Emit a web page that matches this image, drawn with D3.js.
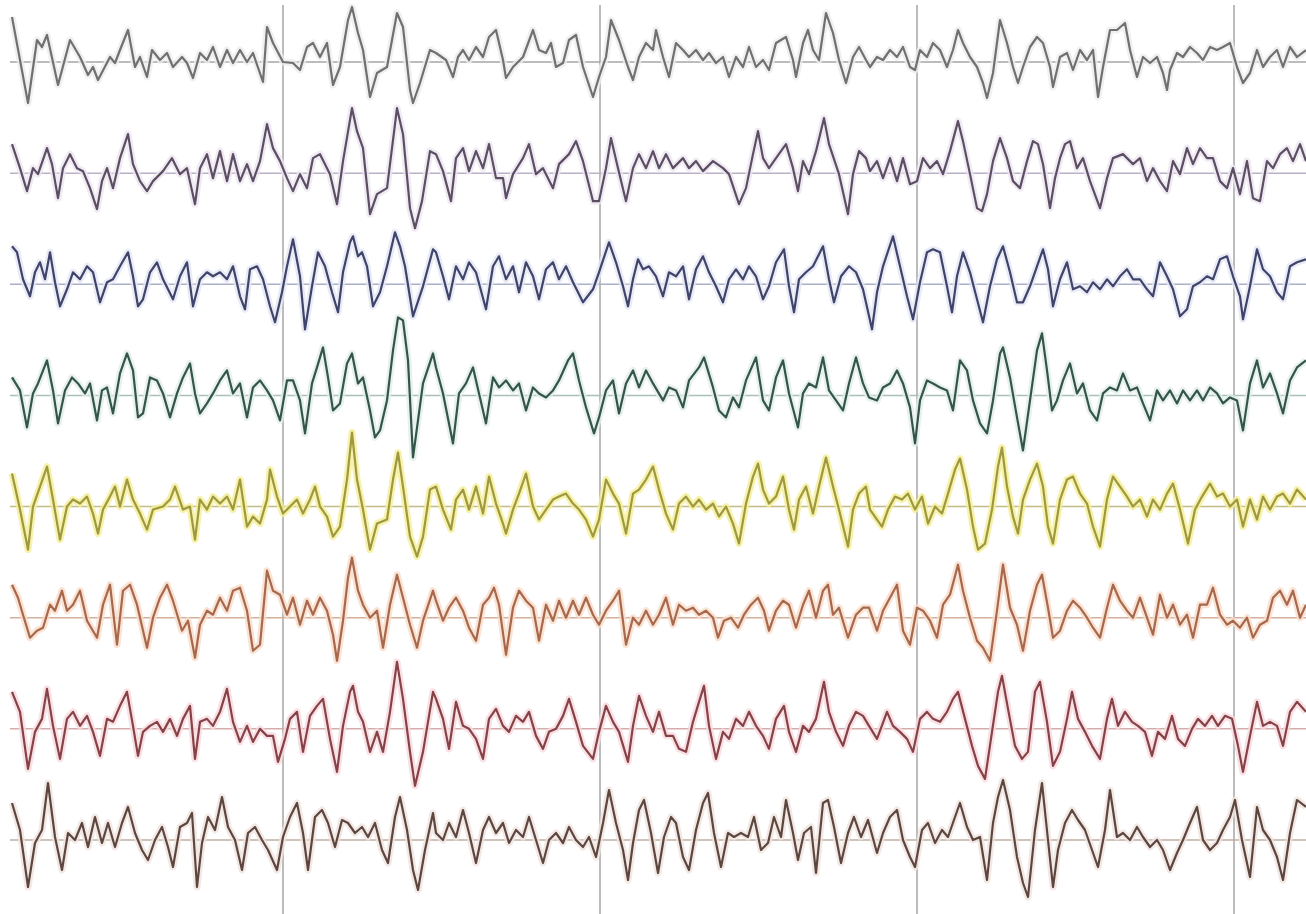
<!DOCTYPE html>
<html>
<head>
<meta charset="utf-8">
<script src="https://cdn.jsdelivr.net/npm/d3@7"></script>
<style>
  html, body { margin: 0; padding: 0; background: #fff; }
  svg { display: block; }
</style>
</head>
<body>
<div id="chart"></div>
<script>
// EEG page: 8 channels, [sample, amplitude] pairs
const channels = ["ch1", "ch2", "ch3", "ch4", "ch5", "ch6", "ch7", "ch8"];
const secondMarks = [283, 600, 917, 1234]; // samples where each second begins

const ch1 = [[12,45],[28,-41],[37,22],[42,15],[47,27],[58,-23],[70,22],[80,5],[88,-13],[93,-5],[98,-18],[110,5],[115,-1],[120,12],[128,32],[135,-5],[140,5],[147,-15],[152,12],[160,2],[167,9],[173,-5],[182,5],[187,-1],[193,-16],[200,9],[207,2],[213,15],[220,-5],[227,12],[233,-1],[240,12],[247,0],[253,9],[263,-20],[267,35],[273,19],[283,0],[293,-1],[300,-8],[307,15],[313,19],[320,5],[327,19],[333,-23],[340,-5],[348,42],[352,55],[358,29],[363,12],[370,-35],[377,-11],[387,-5],[397,49],[403,35],[410,-28],[413,-41],[420,-21],[430,12],
  [436,9],[446,2],[453,-15],[458,5],[463,12],[469,2],[476,15],[483,5],[489,25],[496,32],[503,2],[506,-16],[513,-5],[523,5],[533,32],[539,12],[546,9],[551,19],[556,-5],[563,-1],[569,22],[576,27],[583,-5],[593,-35],[599,-15],[606,5],[611,42],[619,22],[628,-5],[633,-18],[639,5],[646,19],[653,12],[656,32],[663,5],[669,-15],[676,19],[683,12],[689,5],[696,12],[703,2],[709,9],[716,-1],[723,5],[729,-15],[736,5],[743,-5],[749,15],[756,-5],[763,2],[769,-8],[776,19],[786,25],[793,2],[796,-15],[803,19],[808,32],[813,12],[819,2],[826,49],[833,29],[839,2],[846,-21],[853,5],[859,15],[866,2],
  [870,-5],[877,5],[883,2],[890,12],[897,5],[903,15],[910,-5],[915,-8],[920,12],[927,5],[933,19],[940,12],[947,-5],[953,12],[958,32],[963,19],[970,5],[977,-5],[983,-21],[987,-36],[993,-11],[1000,42],[1007,19],[1013,-5],[1018,-21],[1023,-5],[1030,15],[1037,25],[1043,19],[1050,-5],[1053,-25],[1060,5],[1067,9],[1073,-8],[1080,12],[1087,2],[1093,12],[1098,-35],[1103,-5],[1110,32],[1117,32],[1125,39],[1130,12],[1137,-15],[1143,5],[1150,-1],[1157,5],[1163,-11],[1167,-28],[1170,-8],[1177,9],[1183,5],[1190,15],[1197,9],[1203,2],[1210,15],[1217,12],[1223,15],[1230,19],[1237,-5],[1243,-21],[1250,-11],[1257,12],[1263,-5],[1270,5],[1277,12],[1283,-5],[1290,15],[1297,5],[1306,12]];

const ch2 = [[12,29],[20,5],[27,-18],[33,5],[38,-1],[47,25],[52,9],[58,-25],[63,5],[70,19],[77,5],[83,2],[90,-15],[97,-36],[102,-8],[107,5],[113,-15],[120,15],[128,39],[133,9],[140,-8],[147,-18],[153,-8],[163,2],[172,15],[180,-1],[187,5],[195,-31],[200,5],[207,19],[213,-5],[220,22],[227,-8],[233,19],[240,-8],[247,9],[253,-8],[260,12],[267,49],[273,25],[280,12],[287,-5],[293,-18],[300,-1],[307,-15],[313,15],[320,19],[330,-1],[337,-31],[343,12],[352,65],[357,42],[363,25],[370,-41],[377,-21],[387,-15],[397,65],[403,39],[410,-35],[415,-55],[422,-28],[430,22],
  [436,19],[443,2],[451,-28],[456,15],[463,25],[469,2],[476,22],[483,5],[489,29],[496,-5],[503,-5],[506,-25],[513,-1],[523,15],[529,29],[536,-1],[543,5],[553,-15],[559,9],[569,19],[576,32],[583,12],[593,-28],[599,-28],[606,5],[611,35],[618,5],[626,-28],[633,5],[639,19],[646,5],[653,22],[659,5],[666,19],[673,5],[683,15],[689,5],[696,12],[703,2],[713,12],[723,5],[729,-1],[739,-31],[746,-15],[753,19],[758,42],[763,15],[769,5],[776,15],[786,29],[793,5],[798,-18],[803,12],[809,-1],[816,22],[824,55],[829,29],[839,-1],[848,-41],[853,-1],[859,22],[866,15],
  [870,2],[877,12],[883,-5],[890,15],[897,-8],[903,15],[910,-11],[917,-8],[923,15],[930,5],[937,12],[943,-1],[950,22],[958,52],[963,32],[970,-1],[977,-35],[982,-38],[987,-21],[993,12],[1000,35],[1007,15],[1013,-8],[1020,-15],[1027,12],[1033,32],[1038,29],[1043,9],[1050,-35],[1055,-5],[1060,15],[1065,29],[1070,32],[1077,5],[1083,15],[1090,-8],[1100,-35],[1107,-5],[1113,15],[1123,19],[1133,9],[1140,15],[1147,-8],[1153,5],[1160,-8],[1167,-18],[1173,12],[1180,-1],[1187,25],[1193,9],[1200,25],[1207,15],[1213,15],[1220,-8],[1227,-15],[1233,5],[1240,-21],[1247,12],[1253,-25],[1260,-28],[1267,12],[1273,5],[1280,19],[1287,25],[1293,12],[1300,29],[1306,12]];

const ch3 = [[12,38],[17,32],[23,5],[30,-12],[35,12],[40,22],[45,5],[50,32],[55,2],[60,-22],[67,-5],[73,12],[80,5],[87,18],[93,12],[100,-18],[107,2],[113,5],[120,18],[128,32],[133,8],[138,-22],[143,-15],[150,12],[157,22],[163,5],[173,-15],[180,8],[187,22],[193,-22],[200,5],[207,12],[213,8],[220,12],[227,5],[233,18],[240,-12],[245,-25],[250,15],[257,18],[263,5],[270,-22],[275,-38],[282,-8],[287,18],[293,45],[300,8],[305,-45],[312,-2],[318,32],[325,18],[332,-8],[338,-28],[343,12],[350,42],[353,48],[358,28],[362,32],[367,18],[373,-22],[380,-8],[387,18],[395,52],[400,38],[405,18],[413,-32],[423,-2],[433,35],
  [436,32],[443,8],[449,-15],[456,18],[463,5],[469,22],[476,12],[486,-25],[493,18],[499,28],[506,5],[513,18],[519,-8],[526,22],[533,8],[539,-15],[546,15],[553,22],[559,5],[566,18],[573,2],[583,-18],[593,-5],[599,12],[609,42],[616,22],[623,-2],[628,-22],[633,5],[638,25],[643,15],[649,18],[656,8],[663,-12],[669,12],[676,8],[683,18],[689,-15],[696,15],[703,28],[709,12],[716,-2],[723,-18],[729,5],[736,15],[743,5],[749,18],[756,8],[763,-15],[769,-2],[776,22],[784,35],[789,-2],[794,-28],[799,5],[806,12],[813,18],[823,38],[829,5],[834,-18],[841,8],[849,18],[856,12],[863,-5],
  [872,-45],[877,-8],[883,18],[893,48],[900,18],[907,-12],[913,-35],[920,2],[927,32],[933,35],[940,32],[947,-2],[952,-28],[957,8],[963,32],[970,12],[977,-15],[983,-38],[990,-2],[997,25],[1003,38],[1010,12],[1017,-18],[1023,-18],[1030,-2],[1037,18],[1043,35],[1048,15],[1053,-22],[1060,5],[1067,22],[1073,-5],[1080,-2],[1087,-8],[1093,2],[1100,-5],[1107,5],[1113,-2],[1120,8],[1127,15],[1133,5],[1140,5],[1147,-5],[1153,-12],[1160,22],[1167,8],[1173,-5],[1180,-32],[1187,-25],[1193,-2],[1200,2],[1207,8],[1213,5],[1220,25],[1227,28],[1233,8],[1240,-12],[1243,-35],[1250,-2],[1257,35],[1263,15],[1270,8],[1277,-8],[1283,-15],[1290,18],[1297,22],[1306,25]];

const ch4 = [[12,18],[20,5],[27,-32],[33,2],[38,12],[47,35],[53,5],[58,-28],[65,5],[72,18],[78,12],[85,2],[90,12],[97,-25],[102,5],[107,8],[113,-18],[120,22],[127,42],[133,25],[138,-22],[143,-18],[150,18],[157,15],[163,2],[170,-22],[177,2],[183,18],[190,32],[195,2],[200,-18],[207,-8],[213,2],[220,15],[227,25],[233,2],[240,12],[247,-22],[253,8],[260,15],[267,5],[273,-5],[280,-25],[287,15],[293,15],[300,-5],[305,-38],[312,12],[317,28],[323,48],[328,18],[333,-15],[340,-8],[347,32],[352,42],[358,12],[363,18],[370,-15],[375,-42],[380,-35],[387,-5],[393,45],[398,78],[403,75],[408,35],[413,-62],[423,12],[433,42],
  [436,28],[443,2],[453,-48],[459,2],[466,12],[473,28],[479,2],[486,-28],[493,18],[499,8],[506,15],[513,5],[519,12],[526,-15],[533,8],[539,2],[546,-2],[553,5],[559,15],[568,35],[573,42],[579,15],[586,-12],[594,-38],[599,-22],[606,5],[613,15],[619,-18],[626,12],[633,25],[639,8],[646,25],[653,12],[663,-5],[669,8],[676,5],[683,-12],[689,15],[699,28],[704,38],[713,8],[719,-15],[726,-22],[733,-2],[739,-12],[746,15],[756,38],[763,-5],[769,-15],[776,18],[783,35],[789,2],[798,-32],[803,2],[809,12],[816,8],[823,38],[829,5],[836,-5],[843,-15],[849,12],[856,38],[863,12],[869,-2],
  [877,-5],[883,8],[890,12],[897,25],[903,12],[910,-12],[915,-48],[920,-5],[927,15],[933,12],[940,8],[947,5],[953,-15],[960,35],[967,25],[973,-5],[980,-28],[987,-38],[993,-5],[1000,42],[1003,48],[1010,18],[1017,-22],[1023,-55],[1030,-5],[1037,45],[1042,62],[1047,25],[1052,-15],[1057,-5],[1063,15],[1070,32],[1077,2],[1083,12],[1090,-15],[1097,-25],[1103,2],[1110,8],[1117,5],[1123,22],[1130,5],[1137,8],[1143,-8],[1150,-25],[1157,5],[1163,-5],[1170,5],[1177,-8],[1183,5],[1190,-5],[1197,5],[1203,-5],[1210,8],[1217,2],[1223,-8],[1230,-2],[1237,-5],[1243,-35],[1250,12],[1257,35],[1263,8],[1270,22],[1277,2],[1283,-18],[1290,15],[1297,28],[1306,35]];

const ch5 = [[12,33],[20,-3],[28,-43],[33,0],[40,20],[47,40],[53,7],[60,-33],[67,0],[73,7],[80,3],[87,10],[93,-7],[98,-27],[103,-3],[110,10],[115,20],[120,0],[127,27],[133,7],[140,-7],[147,-23],[153,-3],[163,0],[170,7],[175,20],[183,-3],[190,0],[195,-33],[200,7],[207,-3],[213,10],[220,3],[227,10],[233,-3],[240,27],[247,-20],[253,-10],[260,-17],[267,7],[270,37],[277,10],[283,-7],[290,0],[297,7],[303,-7],[310,7],[315,20],[320,0],[327,-10],[333,-30],[340,-20],[347,27],[352,74],[357,27],[363,-3],[370,-43],[377,-17],[387,-13],[393,27],[398,54],[403,20],[410,-30],[417,-50],[423,-30],[430,17],
  [436,20],[443,-3],[451,-23],[456,7],[463,17],[469,-3],[476,20],[483,-7],[489,30],[496,3],[503,-17],[506,-27],[513,-3],[519,13],[526,33],[533,0],[539,-13],[546,-3],[553,7],[559,10],[566,13],[573,3],[579,-3],[586,-13],[593,-30],[599,-13],[606,27],[613,13],[619,3],[626,-27],[633,13],[639,17],[646,27],[653,40],[659,17],[666,-7],[673,-23],[679,3],[686,10],[693,0],[699,7],[706,-3],[713,3],[719,-10],[726,0],[733,-17],[739,-37],[746,3],[753,30],[758,43],[763,17],[769,3],[776,10],[783,30],[789,-3],[794,-23],[799,7],[806,20],[813,-7],[819,20],[826,49],[833,20],[839,-3],[848,-40],[853,-3],[859,13],[866,20],
  [870,-3],[877,-13],[882,-20],[888,-3],[895,10],[902,7],[908,13],[915,-3],[922,10],[928,-17],[935,0],[942,-7],[948,13],[955,37],[960,48],[967,17],[973,-20],[978,-43],[985,-37],[992,-3],[998,40],[1002,59],[1007,20],[1013,-10],[1018,-27],[1023,7],[1030,27],[1037,43],[1043,20],[1048,-20],[1053,-37],[1060,7],[1067,27],[1073,30],[1080,13],[1087,3],[1093,-20],[1100,-40],[1107,7],[1113,30],[1120,20],[1127,10],[1133,0],[1140,7],[1147,-10],[1153,7],[1160,-3],[1167,13],[1173,23],[1180,-3],[1188,-37],[1195,-3],[1202,10],[1210,23],[1217,10],[1223,13],[1230,0],[1237,7],[1243,-20],[1250,7],[1257,-13],[1263,10],[1270,-3],[1277,10],[1283,13],[1290,3],[1297,17],[1306,7]];

const ch6 = [[12,33],[18,20],[23,3],[30,-20],[37,-13],[43,-10],[50,13],[55,7],[62,27],[67,7],[73,13],[80,27],[87,-3],[97,-20],[103,13],[110,33],[117,-27],[123,27],[130,33],[137,13],[147,-30],[153,0],[160,20],[167,33],[173,17],[182,-13],[188,-3],[195,-40],[200,-7],[207,7],[213,3],[220,20],[227,7],[233,27],[240,30],[247,7],[253,-33],[260,-27],[267,47],[273,27],[280,23],[287,3],[293,20],[300,-7],[307,17],[313,3],[320,20],[327,7],[333,-17],[337,-43],[343,-3],[348,40],[352,60],[358,27],[363,13],[370,0],[377,7],[383,-30],[390,13],[397,43],[403,20],[410,-7],[417,-30],[423,-3],[433,27],
  [436,17],[443,-3],[449,10],[456,20],[463,7],[469,-10],[476,-23],[483,13],[489,20],[494,30],[499,13],[506,-37],[513,10],[519,27],[526,17],[533,10],[539,-23],[546,13],[553,-3],[559,17],[566,0],[573,17],[579,3],[586,20],[593,3],[599,-7],[606,7],[613,17],[619,27],[626,-27],[633,0],[639,-7],[646,7],[653,-7],[659,3],[666,20],[673,-7],[679,13],[686,7],[693,10],[699,3],[706,7],[713,0],[718,-20],[724,-3],[731,0],[738,-10],[744,3],[751,13],[758,20],[764,7],[769,-13],[776,7],[783,17],[789,13],[796,-10],[803,13],[809,27],[816,0],[823,27],[828,33],[833,3],[839,10],[848,-20],[856,3],[863,10],[869,10],
  [877,-13],[883,7],[890,20],[897,33],[903,-13],[910,-27],[917,10],[923,7],[930,-3],[937,-20],[943,13],[950,23],[958,53],[963,27],[970,0],[977,-23],[983,-30],[990,-43],[997,7],[1003,53],[1010,10],[1017,-7],[1023,-33],[1030,7],[1037,33],[1042,43],[1048,10],[1053,-20],[1060,-13],[1067,7],[1073,17],[1080,10],[1087,0],[1093,-10],[1100,-20],[1107,10],[1113,33],[1120,17],[1127,7],[1133,0],[1140,20],[1147,0],[1153,-17],[1160,23],[1167,0],[1173,13],[1180,-7],[1187,3],[1193,-20],[1200,13],[1207,13],[1213,30],[1220,3],[1227,-7],[1233,-3],[1240,-10],[1247,0],[1253,-20],[1260,-7],[1267,-3],[1273,20],[1280,27],[1287,13],[1293,27],[1300,0],[1306,13]];

const ch7 = [[12,37],[20,17],[28,-40],[35,-3],[42,10],[47,40],[53,3],[60,-30],[67,10],[73,17],[80,3],[87,13],[93,-3],[100,-27],[107,10],[113,7],[120,23],[127,37],[133,3],[138,-27],[143,-3],[150,3],[157,7],[163,-3],[170,10],[177,-7],[183,10],[190,23],[195,-30],[200,7],[207,10],[213,3],[220,17],[227,40],[233,7],[240,-13],[247,3],[253,-13],[260,0],[267,-7],[273,-7],[278,-33],[285,-10],[290,10],[297,17],[303,-23],[310,13],[317,23],[323,30],[330,-10],[337,-43],[343,3],[350,37],[353,43],[358,17],[363,7],[370,-23],[377,-3],[383,-23],[390,17],[397,67],[403,30],[410,-23],[415,-57],[423,-23],[433,37],
  [436,30],[443,10],[449,-20],[456,27],[463,3],[469,0],[476,-10],[483,-30],[489,10],[496,20],[503,3],[509,-3],[516,13],[523,7],[529,17],[536,-7],[543,-20],[549,-3],[556,0],[563,13],[569,30],[576,7],[583,-17],[593,-30],[599,-3],[606,23],[613,7],[619,-3],[628,-33],[633,3],[639,33],[646,13],[653,-3],[659,17],[666,-7],[673,-7],[679,-20],[686,-23],[693,7],[699,27],[704,43],[709,3],[716,-30],[723,-3],[729,-10],[736,10],[743,3],[749,17],[756,3],[763,-7],[769,-20],[776,10],[784,23],[789,-3],[796,-23],[803,3],[809,-3],[816,10],[824,47],[829,17],[836,-3],[843,-17],[849,3],[856,17],[863,13],[869,3],
  [877,-10],[887,17],[893,3],[900,-3],[907,-10],[913,-23],[920,10],[927,17],[933,10],[940,7],[947,17],[953,30],[958,37],[965,10],[972,-17],[978,-37],[985,-50],[992,-3],[998,37],[1002,53],[1008,20],[1015,-17],[1022,-30],[1028,-23],[1035,37],[1040,47],[1047,7],[1053,-37],[1060,-23],[1067,10],[1072,37],[1078,10],[1085,-3],[1092,-17],[1100,-30],[1107,10],[1112,30],[1118,3],[1125,17],[1132,7],[1138,3],[1145,-3],[1152,-27],[1158,-3],[1165,-10],[1172,13],[1178,-10],[1185,-17],[1192,0],[1198,10],[1205,3],[1212,13],[1218,3],[1225,13],[1232,10],[1238,-17],[1243,-43],[1250,-7],[1257,27],[1263,3],[1270,7],[1277,3],[1283,-17],[1290,17],[1297,27],[1306,17]];

const ch8 = [[12,37],[20,10],[28,-47],[35,-3],[42,10],[48,57],[55,3],[62,-30],[68,7],[75,0],[82,17],[88,-7],[95,23],[102,-3],[108,17],[115,-7],[122,17],[128,33],[135,7],[142,-10],[148,-20],[155,0],[162,13],[168,-7],[173,-27],[180,13],[187,17],[192,27],[197,-47],[202,-3],[208,23],[215,10],[222,43],[228,13],[235,0],[242,-30],[248,7],[255,13],[262,0],[268,-10],[277,-30],[283,3],[290,23],[297,37],[303,7],[308,-30],[315,23],[322,30],[328,17],[335,-7],[342,20],[348,17],[355,7],[362,13],[368,3],[375,17],[382,-10],[388,-23],[395,23],[400,43],[407,10],[413,-30],[418,-50],[425,-10],[433,27],
  [436,7],[443,0],[449,17],[456,3],[463,30],[469,7],[476,-23],[483,10],[489,23],[496,7],[503,17],[509,-3],[516,10],[523,3],[529,23],[536,0],[543,-23],[549,0],[556,7],[563,-3],[569,13],[576,0],[583,-7],[589,3],[596,-17],[603,17],[609,50],[616,17],[623,-10],[628,-40],[633,-3],[639,30],[644,40],[651,7],[658,-33],[664,3],[671,23],[676,17],[683,-17],[689,-30],[696,10],[703,37],[708,47],[714,7],[721,-27],[728,7],[734,3],[741,7],[748,3],[754,23],[761,-10],[768,-3],[774,23],[781,3],[786,40],[793,7],[798,-20],[804,7],[811,13],[816,-33],[823,37],[828,40],[834,13],[841,-23],[848,7],[854,23],[861,3],[868,20],
  [877,-13],[883,7],[890,23],[897,30],[903,0],[910,-17],[915,-27],[922,10],[928,17],[935,-3],[942,10],[948,3],[955,23],[960,37],[967,13],[973,0],[980,3],[987,-40],[993,17],[998,43],[1003,60],[1010,30],[1017,-17],[1023,-43],[1028,-57],[1035,10],[1042,57],[1048,0],[1053,-47],[1058,-10],[1065,17],[1072,30],[1078,20],[1085,10],[1092,-10],[1098,-27],[1105,10],[1110,50],[1117,3],[1123,7],[1130,0],[1137,13],[1143,3],[1150,-7],[1157,0],[1163,-10],[1170,-30],[1177,-13],[1183,0],[1190,17],[1197,33],[1203,0],[1210,-10],[1217,-3],[1223,10],[1230,23],[1235,40],[1242,0],[1250,-37],[1257,33],[1263,10],[1270,0],[1277,-17],[1283,-40],[1290,7],[1297,40],[1306,33]];

// muted trace colours, a faint glow around each, and pale baselines
const traceColors = ["#707070", "#5c4f64", "#40436a", "#33554a", "#9e9840", "#a8684c", "#874248", "#5e4640"];
const haloColors  = ["#ececec", "#ece6f0", "#e4e7f2", "#e2eee8", "#f5ef96", "#f8dccb", "#f6dadd", "#efe4de"];
const baseColors  = ["#a6a6a6", "#bcb0c6", "#aab0c8", "#a9c0b4", "#c2bc84", "#d4b09a", "#d4acac", "#bfaea2"];

const width = 1306, height = 914;
const series = [ch1, ch2, ch3, ch4, ch5, ch6, ch7, ch8];

const svg = d3.select("#chart")
    .append("svg")
    .attr("width", width)
    .attr("height", height);

// time axis: one sample per pixel column
const x = d3.scaleLinear().domain([0, 1306]).range([0, width]);

// channel baselines
const lane = d3.scalePoint().domain(channels).range([62, 840]);

// amplitude scale (positive up), same for every channel
const amp = d3.scaleLinear().domain([-100, 100]).range([100, -100]);

// vertical second marks
svg.append("g")
    .selectAll("line")
    .data(secondMarks)
    .join("line")
    .attr("x1", d => x(d))
    .attr("x2", d => x(d))
    .attr("y1", 5)
    .attr("y2", height)
    .attr("stroke", "#bcbcbc")
    .attr("stroke-width", 2);

// baselines
svg.append("g")
    .selectAll("line")
    .data(channels)
    .join("line")
    .attr("x1", x(10))
    .attr("x2", width)
    .attr("y1", d => lane(d))
    .attr("y2", d => lane(d))
    .attr("stroke", (d, i) => baseColors[i])
    .attr("stroke-width", 1.5);

const line = d3.line()
    .x(d => x(d[0]));

channels.forEach((name, i) => {
    const y0 = lane(name);
    line.y(d => y0 + amp(d[1]));

    // soft halo under each trace
    svg.append("path")
        .datum(series[i])
        .attr("fill", "none")
        .attr("stroke", haloColors[i])
        .attr("stroke-width", 7)
        .attr("stroke-linejoin", "round")
        .attr("opacity", 0.8)
        .attr("d", line);

    svg.append("path")
        .datum(series[i])
        .attr("class", "trace")
        .attr("fill", "none")
        .attr("stroke", traceColors[i])
        .attr("stroke-width", 2.2)
        .attr("stroke-linejoin", "round")
        .attr("d", line);
});
</script>
</body>
</html>
